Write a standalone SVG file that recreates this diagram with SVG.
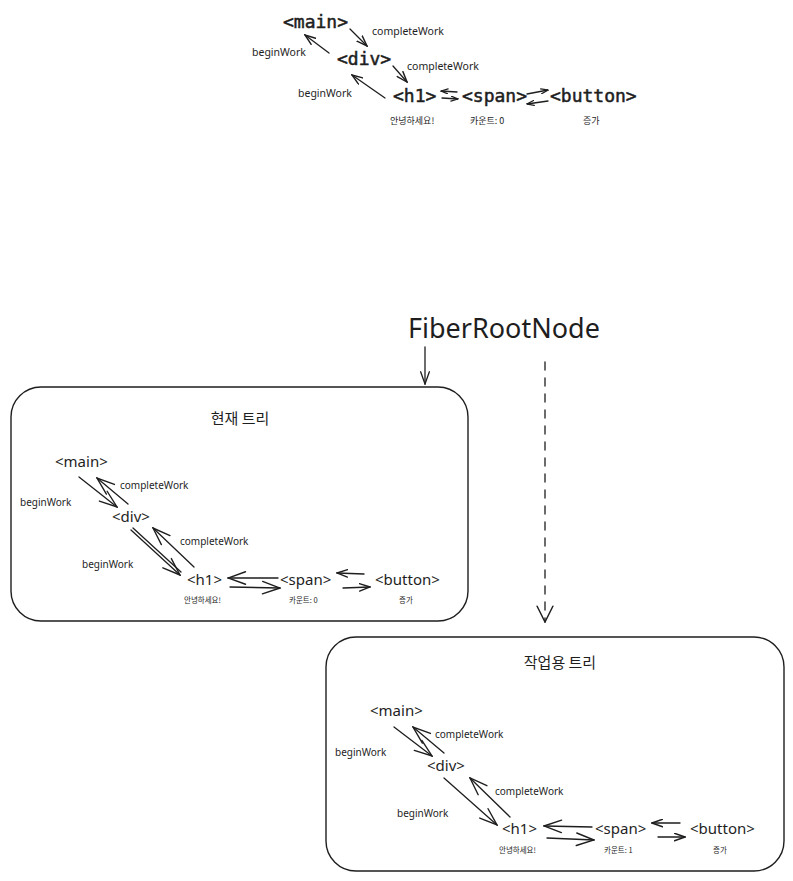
<svg xmlns="http://www.w3.org/2000/svg" width="793" height="881" viewBox="0 0 793 881">
<defs>
<style>
.mono{font-family:"DejaVu Sans Mono","Liberation Mono",monospace;font-size:18px;fill:#1e1e1e;stroke:#1e1e1e;stroke-width:0.5}
.lbl{font-family:"Noto Sans","Noto Sans CJK KR",sans-serif;fill:#1e1e1e}
.tag{font-size:15px}
.work{font-size:10px}
.work-top{font-size:10.5px}
.ko{font-family:"Noto Sans CJK KR","Noto Sans",sans-serif;fill:#1e1e1e;font-size:7.5px}
.ko-top{font-size:9px}
.title{font-family:"Noto Sans CJK KR","Noto Sans",sans-serif;fill:#1e1e1e;font-size:15px}
.root{font-family:"Noto Sans","Liberation Sans",sans-serif;fill:#1e1e1e;font-size:27px}
.box{fill:#ffffff;stroke:#1e1e1e;stroke-width:1.4}
.ln{fill:none;stroke:#1e1e1e;stroke-width:1.3;stroke-linecap:round}
.big{marker-end:url(#ahL)}
.med{marker-end:url(#ahM)}
.sm{marker-end:url(#ahS)}
.root-ah{marker-end:url(#ahR)}
.dash-ah{marker-end:url(#ahD)}
</style>
<marker id="ahL" viewBox="0 0 16 12" refX="15" refY="6" markerWidth="20" markerHeight="15" markerUnits="userSpaceOnUse" orient="auto">
<path d="M1,1 L15,6 L1,11" fill="none" stroke="#1e1e1e" stroke-width="1.1" stroke-linecap="round"/>
</marker>
<marker id="ahM" viewBox="0 0 16 12" refX="15" refY="6" markerWidth="12" markerHeight="9" markerUnits="userSpaceOnUse" orient="auto">
<path d="M1,1 L15,6 L1,11" fill="none" stroke="#1e1e1e" stroke-width="1.9" stroke-linecap="round"/>
</marker>
<marker id="ahS" viewBox="0 0 16 12" refX="15" refY="6" markerWidth="8" markerHeight="6" markerUnits="userSpaceOnUse" orient="auto">
<path d="M1,1 L15,6 L1,11" fill="none" stroke="#1e1e1e" stroke-width="2.5" stroke-linecap="round"/>
</marker>
<marker id="ahR" viewBox="0 0 16 12" refX="15" refY="6" markerWidth="14" markerHeight="12" markerUnits="userSpaceOnUse" orient="auto">
<path d="M1,1 L15,6 L1,11" fill="none" stroke="#1e1e1e" stroke-width="1.5" stroke-linecap="round"/>
</marker>
<marker id="ahD" viewBox="0 0 16 16" refX="15" refY="8" markerWidth="18" markerHeight="18" markerUnits="userSpaceOnUse" orient="auto">
<path d="M1,1 L15,8 L1,15" fill="none" stroke="#1e1e1e" stroke-width="1.3" stroke-linecap="round"/>
</marker>
</defs>
<rect width="793" height="881" fill="#ffffff"/>

<!-- Top tree -->
<g id="top-main"><text class="mono" x="283" y="28">&lt;main&gt;</text></g>
<g id="top-div"><text class="mono" x="337" y="65">&lt;div&gt;</text></g>
<g id="top-h1"><text class="mono" x="393" y="102">&lt;h1&gt;</text><text class="ko ko-top" x="390" y="124">안녕하세요!</text></g>
<g id="top-span"><text class="mono" x="462" y="102">&lt;span&gt;</text><text class="ko ko-top" x="470" y="124">카운트: 0</text></g>
<g id="top-button"><text class="mono" x="550" y="102">&lt;button&gt;</text><text class="ko ko-top" x="583" y="124">증가</text></g>
<g id="top-labels">
<text class="lbl work-top" x="372" y="35">completeWork</text>
<text class="lbl work-top" x="252" y="56">beginWork</text>
<text class="lbl work-top" x="407" y="70">completeWork</text>
<text class="lbl work-top" x="298" y="97">beginWork</text>
</g>

<!-- Root -->
<g id="fiber-root"><text class="root" x="408" y="338">FiberRootNode</text></g>

<!-- Current tree -->
<g id="current-tree">
<rect class="box" x="11" y="387" width="457" height="234" rx="30"/>
<text class="title" x="240" y="424" text-anchor="middle">현재 트리</text>
</g>
<g id="cur-main"><text class="lbl tag" x="55" y="467">&lt;main&gt;</text></g>
<g id="cur-div"><text class="lbl tag" x="112" y="522">&lt;div&gt;</text></g>
<g id="cur-h1"><text class="lbl tag" x="187" y="585">&lt;h1&gt;</text><text class="ko" x="184" y="603">안녕하세요!</text></g>
<g id="cur-span"><text class="lbl tag" x="280" y="585">&lt;span&gt;</text><text class="ko" x="289" y="603">카운트: 0</text></g>
<g id="cur-button"><text class="lbl tag" x="375" y="585">&lt;button&gt;</text><text class="ko" x="399" y="603">증가</text></g>
<g id="cur-labels">
<text class="lbl work" x="120" y="489">completeWork</text>
<text class="lbl work" x="20" y="506">beginWork</text>
<text class="lbl work" x="180" y="545">completeWork</text>
<text class="lbl work" x="82" y="568">beginWork</text>
</g>

<!-- Work in progress tree -->
<g id="wip-tree">
<rect class="box" x="326" y="637" width="458" height="234" rx="30"/>
<text class="title" x="560" y="668" text-anchor="middle">작업용 트리</text>
</g>
<g id="wip-main"><text class="lbl tag" x="370" y="716">&lt;main&gt;</text></g>
<g id="wip-div"><text class="lbl tag" x="427" y="771">&lt;div&gt;</text></g>
<g id="wip-h1"><text class="lbl tag" x="502" y="834">&lt;h1&gt;</text><text class="ko" x="499" y="853">안녕하세요!</text></g>
<g id="wip-span"><text class="lbl tag" x="595" y="834">&lt;span&gt;</text><text class="ko" x="604" y="853">카운트: 1</text></g>
<g id="wip-button"><text class="lbl tag" x="690" y="834">&lt;button&gt;</text><text class="ko" x="713" y="853">증가</text></g>
<g id="wip-labels">
<text class="lbl work" x="435" y="738">completeWork</text>
<text class="lbl work" x="335" y="756">beginWork</text>
<text class="lbl work" x="495" y="795">completeWork</text>
<text class="lbl work" x="397" y="817">beginWork</text>
</g>

<!-- Connectors -->
<g id="connectors">
<!-- top tree -->
<path class="ln med" d="M350,29 L367,46"/>
<path class="ln med" d="M329,53 L305,35"/>
<path class="ln med" d="M393,66 L407,82"/>
<path class="ln med" d="M385,98 L352,75"/>
<path class="ln sm" d="M457,92 L441,91"/>
<path class="ln sm" d="M442,98 L458,99"/>
<path class="ln sm" d="M527,94 L548,90"/>
<path class="ln sm" d="M548,101 L527,104"/>
<!-- root arrows -->
<path class="ln root-ah" d="M425,347 L425,384"/>
<path class="ln dash-ah" d="M545,362 L545,622" stroke-dasharray="8 8"/>
<!-- current tree -->
<path class="ln big" d="M79,477 L117,507"/>
<path class="ln big" d="M128,504 L97,478"/>
<path class="ln big" d="M131,530 L180,575"/>
<path class="ln" d="M133,528 L181,572"/>
<path class="ln big" d="M194,567 L153,528"/>
<path class="ln big" d="M278,578 L228,578"/>
<path class="ln big" d="M230,587 L280,588"/>
<path class="ln med" d="M364,574 L337,573"/>
<path class="ln med" d="M343,588 L370,587"/>
<!-- wip tree -->
<path class="ln big" d="M394,727 L432,756"/>
<path class="ln big" d="M444,753 L413,727"/>
<path class="ln big" d="M444,778 L497,825"/>
<path class="ln big" d="M510,817 L470,778"/>
<path class="ln big" d="M592,827 L544,826"/>
<path class="ln big" d="M547,838 L594,840"/>
<path class="ln med" d="M680,823 L652,823"/>
<path class="ln med" d="M658,837 L685,837"/>
</g>
</svg>
